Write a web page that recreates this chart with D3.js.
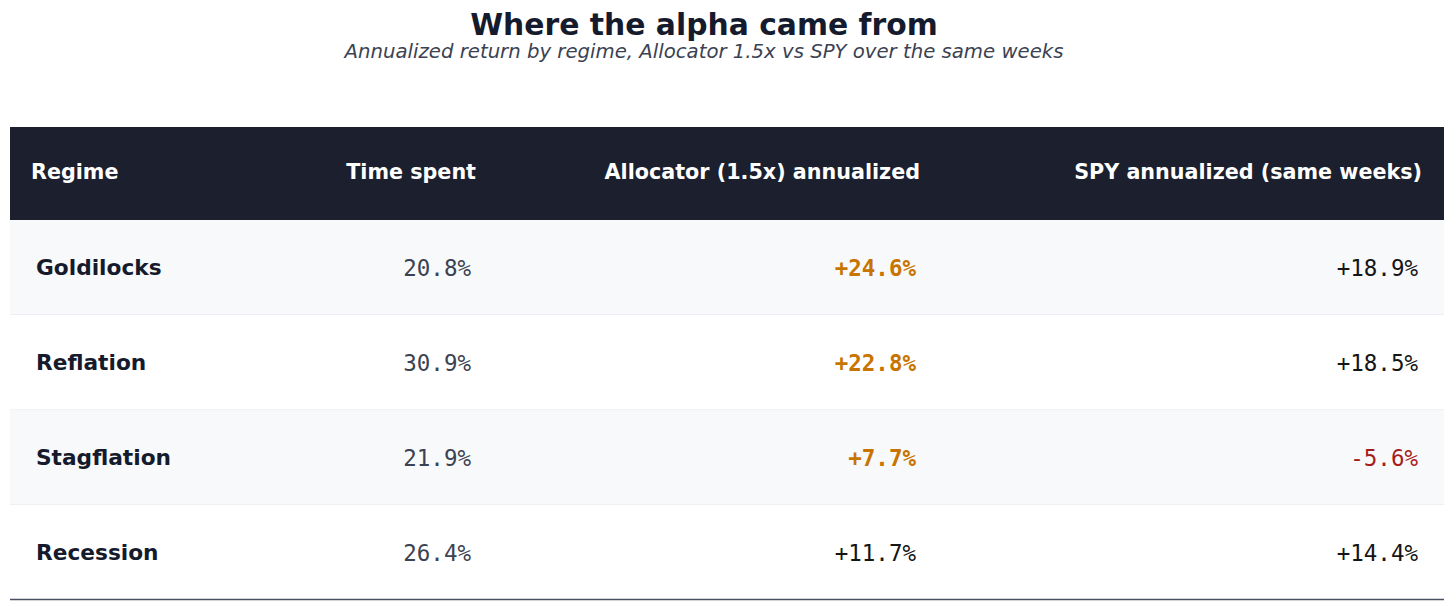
<!DOCTYPE html>
<html>
<head>
<meta charset="utf-8">
<style>
    body { margin: 0; background: #fff; }
    svg { display: block; }
    .title { font-family: "DejaVu Sans", sans-serif; font-weight: bold; font-size: 29.8px; fill: #151b2c; }
    .subtitle { font-family: "DejaVu Sans", sans-serif; font-style: italic; font-size: 19.7px; fill: #3b4252; }
    .head text { font-family: "DejaVu Sans", sans-serif; font-weight: bold; font-size: 20.7px; fill: #fff; }
    .name { font-family: "DejaVu Sans", sans-serif; font-weight: bold; font-size: 21.7px; fill: #151b2c; }
    .num { font-family: "DejaVu Sans Mono", monospace; font-size: 22.5px; }
</style>
</head>
<body>
<svg width="1456" height="607"></svg>
<script src="https://d3js.org/d3.v7.min.js"></script>
<script>
    // data
    let regimes = ["Goldilocks", "Reflation", "Stagflation", "Recession"];
    let timeSpent = [20.8, 30.9, 21.9, 26.4];
    let allocator = [24.6, 22.8, 7.7, 11.7];
    let spy = [18.9, 18.5, -5.6, 14.4];
    // which allocator cells get the highlight (allocator beat SPY)
    let highlight = [true, true, true, false];
    let headers = ["Regime", "Time spent", "Allocator (1.5x) annualized", "SPY annualized (same weeks)"];

    let left = 10, right = 1444;
    let headTop = 127, headBottom = 220, tableBottom = 600;

    let svg = d3.select("svg");

    svg.append("text").attr("class", "title")
        .attr("x", 704).attr("y", 35)
        .attr("text-anchor", "middle")
        .text("Where the alpha came from");

    svg.append("text").attr("class", "subtitle")
        .attr("x", 704).attr("y", 58)
        .attr("text-anchor", "middle")
        .text("Annualized return by regime, Allocator 1.5x vs SPY over the same weeks");

    let y = d3.scaleBand()
        .domain(regimes)
        .range([headBottom, tableBottom]);

    // column anchors (right edges for numbers, left edge for names)
    let colX = [31, 476, 920, 1422];
    let cellX = [36, 471, 916, 1418];

    // header
    let head = svg.append("g").attr("class", "head");
    head.append("rect")
        .attr("x", left).attr("y", headTop)
        .attr("width", right - left).attr("height", headBottom - headTop)
        .style("fill", "#1b1f2e");
    head.selectAll("text").data(headers).join("text")
        .attr("x", (d, i) => colX[i])
        .attr("y", 172)
        .attr("dy", "0.36em")
        .attr("text-anchor", (d, i) => i === 0 ? "start" : "end")
        .text(d => d);

    // rows
    let rows = svg.selectAll("g.row").data(regimes).join("g")
        .attr("class", "row")
        .attr("transform", d => `translate(0,${y(d)})`);

    rows.append("rect")
        .attr("x", left).attr("width", right - left)
        .attr("height", y.bandwidth())
        .style("fill", (d, i) => i % 2 === 0 ? "#f8f9fb" : "#ffffff");

    rows.filter((d, i) => i < regimes.length - 1).append("line")
        .attr("x1", left).attr("x2", right)
        .attr("y1", y.bandwidth()).attr("y2", y.bandwidth())
        .style("stroke", "#e3e5ea").style("stroke-width", 1);

    let mid = y.bandwidth() / 2;

    rows.append("text").attr("class", "name")
        .attr("x", cellX[0]).attr("y", mid).attr("dy", "0.36em")
        .text(d => d);

    let pct = d3.format(".1f");
    let signed = v => (v >= 0 ? "+" : "-") + pct(Math.abs(v)) + "%";

    rows.append("text").attr("class", "num")
        .attr("x", cellX[1]).attr("y", mid).attr("dy", "0.36em")
        .attr("text-anchor", "end")
        .style("fill", "#3b4252")
        .text((d, i) => pct(timeSpent[i]) + "%");

    rows.append("text").attr("class", "num")
        .attr("x", cellX[2]).attr("y", mid).attr("dy", "0.36em")
        .attr("text-anchor", "end")
        .style("fill", (d, i) => highlight[i] ? "#c87400" : "#151515")
        .style("font-weight", (d, i) => highlight[i] ? "bold" : "normal")
        .text((d, i) => signed(allocator[i]));

    rows.append("text").attr("class", "num")
        .attr("x", cellX[3]).attr("y", mid).attr("dy", "0.36em")
        .attr("text-anchor", "end")
        .style("fill", (d, i) => spy[i] < 0 ? "#a61c1c" : "#151515")
        .text((d, i) => signed(spy[i]));

    svg.append("line")
        .attr("x1", left).attr("x2", right)
        .attr("y1", tableBottom - 0.5).attr("y2", tableBottom - 0.5)
        .style("stroke", "#4b5060").style("stroke-width", 1.3);
</script>
</body>
</html>
